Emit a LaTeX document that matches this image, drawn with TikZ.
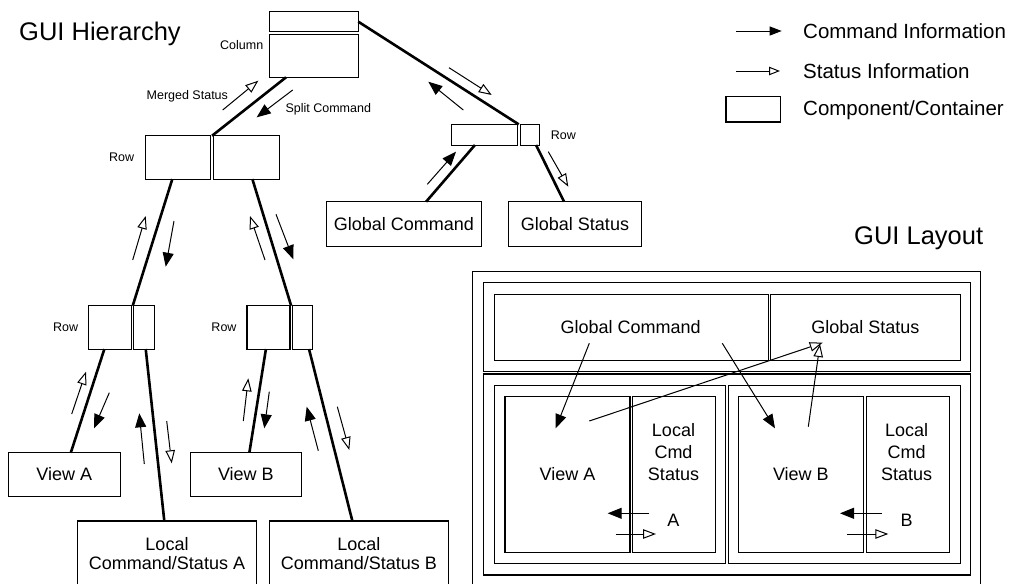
\documentclass[tikz,border=0pt]{standalone}
\usepackage{fontspec}
\setmainfont{Liberation Sans}
\usetikzlibrary{arrows.meta,calc}
\tikzset{
  box/.style={draw, line width=1.1pt, inner sep=0pt, outer sep=0pt},
  boxtxt/.style={font=\fontsize{18}{19.5}\selectfont, align=center},
  small/.style={font=\fontsize{12.5}{14}\selectfont, inner sep=0pt},
  title/.style={font=\fontsize{25.5}{28}\selectfont, inner sep=0pt},
  legtxt/.style={font=\fontsize{20.5}{23}\selectfont, inner sep=0pt, anchor=west},
  link/.style={line width=2.6pt},
  cmd/.style={line width=1pt, -{Triangle[length=14pt,width=11pt]}},
  stat/.style={line width=1pt, -{Triangle[open,length=13pt,width=9.5pt,line width=1pt]}},
  legcmd/.style={line width=1pt, -{Triangle[length=12pt,width=9pt]}},
  legstat/.style={line width=1pt, -{Triangle[open,length=11pt,width=8.5pt,line width=1pt]}}
}
\begin{document}
\begin{tikzpicture}[x=1pt,y=-1pt]
\useasboundingbox (0,0) rectangle (1018,584);
\clip (0,0) rectangle (1018,584);

% ---------- titles ----------
\node[title] (th) at (100,34.3) {GUI Hierarchy};
\node[title] (tl) at (918.7,238.3) {GUI Layout};

% ---------- legend ----------
\coordinate (lc1) at (736,31);
\coordinate (lc2) at (781.7,31);
\coordinate (ls1) at (736,71);
\coordinate (ls2) at (780,71);
\draw[legcmd] (lc1) -- (lc2);
\draw[legstat] (ls1) -- (ls2);
\node[box, minimum width=54.7pt, minimum height=25.3pt] (legbox) at (753.3,109.3) {};
\node[legtxt] (lt1) at (803,31) {Command Information};
\node[legtxt] (lt2) at (803,71) {Status Information};
\node[legtxt] (lt3) at (803,110) {Component/Container};

% ---------- hierarchy boxes ----------
\node[box, minimum width=89pt, minimum height=20pt] (colT) at (313.8,21.7) {};
\node[box, minimum width=89pt, minimum height=43pt] (colB) at (313.8,55.8) {};
\node[small] (lcol) at (241.7,45) {Column};

\node[box, minimum width=65.7pt, minimum height=43.3pt] (rowL) at (177.9,157.4) {};
\node[box, minimum width=65.7pt, minimum height=43.3pt] (rowR) at (246.2,157.4) {};
\node[small] (lrow1) at (121.7,157.7) {Row};

\node[box, minimum width=66.3pt, minimum height=20.7pt] (rrL) at (484.2,134.7) {};
\node[box, minimum width=19.3pt, minimum height=20.7pt] (rrR) at (529.7,134.7) {};
\node[small] (lrow2) at (563.3,135) {Row};

\node[box, boxtxt, minimum width=154.3pt, minimum height=45pt] (gc) at (403.9,224.2) {Global Command};
\node[box, boxtxt, minimum width=133.4pt, minimum height=45pt] (gs) at (575,224.2) {Global Status};

\node[box, minimum width=43.4pt, minimum height=43.3pt] (lrL1) at (110,327.4) {};
\node[box, minimum width=20.3pt, minimum height=43.3pt] (lrL2) at (143.9,327.4) {};
\node[small] (lrow3) at (65.7,327.7) {Row};
\node[box, minimum width=43pt, minimum height=43.3pt] (lrR1) at (268.5,327.4) {};
\node[box, minimum width=20.4pt, minimum height=43.3pt] (lrR2) at (302.5,327.4) {};
\node[small] (lrow4) at (224,327.7) {Row};

\node[box, boxtxt, minimum width=111.7pt, minimum height=43.3pt] (viewA) at (64.2,474.4) {View A};
\node[box, boxtxt, minimum width=111.7pt, minimum height=43.3pt] (viewB) at (245.9,474.4) {View B};
\node[box, boxtxt, minimum width=179.4pt, minimum height=65pt] (localA) at (167,553.5) {Local\\Command/Status A};
\node[box, boxtxt, minimum width=179pt, minimum height=65pt] (localB) at (358.8,553.5) {Local\\Command/Status B};

% ---------- hierarchy links ----------
\draw[link] ($(colB.south west)!0.188!(colB.south east)$) -- ($(rowL.north east)!0.5!(rowR.north west)$);
\draw[link] (colT.east) -- ($(rrL.north east)!0.5!(rrR.north west)$);
\draw[link] ($(rrL.south west)!0.36!(rrL.south east)$) -- ($(gc.north west)!0.644!(gc.north east)$);
\draw[link] ($(rrR.south west)!0.83!(rrR.south east)$) -- ($(gs.north west)!0.418!(gs.north east)$);
\draw[link] ($(rowL.south west)!0.415!(rowL.south east)$) -- ($(lrL1.north east)!0.5!(lrL2.north west)$);
\draw[link] ($(rowR.south west)!0.594!(rowR.south east)$) -- ($(lrR1.north east)!0.5!(lrR2.north west)$);
\draw[link] ($(lrL1.south west)!0.37!(lrL1.south east)$) -- ($(viewA.north west)!0.559!(viewA.north east)$);
\draw[link] ($(lrL2.south west)!0.59!(lrL2.south east)$) -- ($(localA.north west)!0.485!(localA.north east)$);
\draw[link] ($(lrR1.south west)!0.44!(lrR1.south east)$) -- ($(viewB.north west)!0.531!(viewB.north east)$);
\draw[link] ($(lrR2.south west)!0.82!(lrR2.south east)$) -- ($(localB.north west)!0.464!(localB.north east)$);

% ---------- hierarchy flow arrows ----------
\draw[stat] (222.7,110) -- (258.3,80.7);
\node[small] (lms) at (187.3,96.7) {Merged Status};
\draw[cmd] (292.7,90) -- (256.7,117.3);
\node[small] (lsc) at (328.3,109.3) {Split Command};

\draw[stat] (449,67.7) -- (491.7,95);
\draw[cmd] (463.3,110) -- (428.3,81.7);
\draw[cmd] (427.3,184.3) -- (456,151.7);
\draw[stat] (548.3,151.7) -- (568.3,186.7);

\draw[stat] (132.7,260) -- (145.7,216);
\draw[cmd] (174,221) -- (165.7,266.7);
\draw[stat] (265,260) -- (250,216);
\draw[cmd] (276,214.3) -- (293.3,259.3);

\draw[stat] (71.7,414) -- (86,371.7);
\draw[cmd] (109.3,392.7) -- (94,428.3);
\draw[cmd] (144.3,464) -- (139.3,413.3);
\draw[stat] (166.7,421) -- (171.7,463.3);

\draw[stat] (243.3,421) -- (248.3,378.3);
\draw[cmd] (269.3,391.7) -- (264.3,428.3);
\draw[cmd] (318.3,450.7) -- (306.7,406.7);
\draw[stat] (337.3,406.7) -- (349.3,450);

% ---------- GUI layout ----------
\node[box, minimum width=508pt, minimum height=320pt] (outer) at (726.7,431.7) {};
\node[box, minimum width=486.7pt, minimum height=88.7pt] (topin) at (726.7,326.7) {};
\node[box, minimum width=274.3pt, minimum height=65.7pt] (lgc) at (631.2,327.2) {};
\node[boxtxt] (lgct) at (630.7,327.3) {Global Command};
\node[box, boxtxt, minimum width=189.3pt, minimum height=65.7pt] (lgs) at (865.4,327.2) {Global Status};
\node[box, minimum width=486.7pt, minimum height=201pt] (botin) at (726.7,474.5) {};
\node[box, minimum width=231.4pt, minimum height=178.3pt] (subA) at (610,474.2) {};
\node[box, minimum width=231.7pt, minimum height=178.3pt] (subB) at (844.2,474.2) {};
\node[box, boxtxt, minimum width=125pt, minimum height=155.6pt] (lvA) at (567.5,474.5) {View A};
\node[box, minimum width=82.7pt, minimum height=155.6pt] (llA) at (673.7,474.5) {};
\node[box, boxtxt, minimum width=125.2pt, minimum height=155.6pt] (lvB) at (800.9,474.5) {View B};
\node[box, minimum width=82.7pt, minimum height=155.6pt] (llB) at (907.7,474.5) {};
\node[font=\fontsize{18}{22.3}\selectfont, align=center, inner sep=0pt] (llAt) at (673.5,452) {Local\\Cmd\\Status};
\node[font=\fontsize{18}{22.3}\selectfont, align=center, inner sep=0pt] (llBt) at (906.7,452) {Local\\Cmd\\Status};
\node[font=\fontsize{18}{21}\selectfont, inner sep=0pt] (llAl) at (673.3,520) {A};
\node[font=\fontsize{18}{21}\selectfont, inner sep=0pt] (llBl) at (906.7,520) {B};

\draw[cmd] (589.3,343.3) -- (555.7,428.3);
\draw[cmd] (722.3,343.3) -- (775,428.3);
\draw[stat] (589.3,421) -- (822.7,342.7);
\draw[stat] (808.3,426.7) -- (820,344);
\draw[cmd] (649.3,513.3) -- (607.7,513.3);
\draw[stat] (615.7,534) -- (656,534);
\draw[cmd] (881.7,513.3) -- (840,513.3);
\draw[stat] (847.3,534) -- (888.3,534);
\end{tikzpicture}
\end{document}
